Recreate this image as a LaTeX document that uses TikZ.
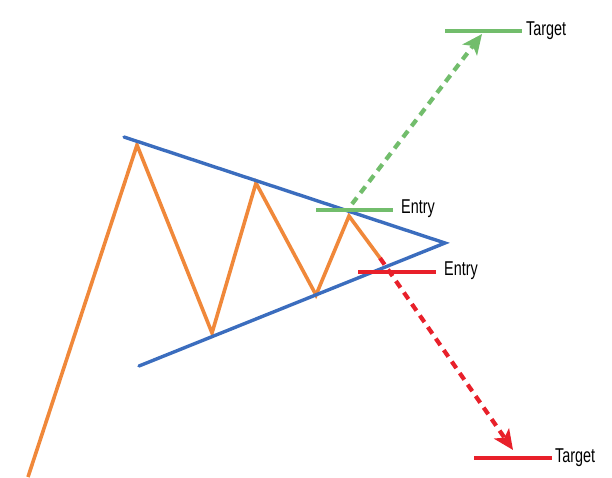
\documentclass[tikz,border=0pt]{standalone}
\usepackage{fontspec}
\setmainfont{Liberation Sans}
\usetikzlibrary{arrows.meta}
\definecolor{cOrange}{HTML}{F0883A}
\definecolor{cBlue}{HTML}{3B6DBE}
\definecolor{cGreen}{HTML}{72BD6C}
\definecolor{cRed}{HTML}{E8202A}
\tikzset{
  trend/.style={cBlue, line width=3.4pt, line cap=round},
  price/.style={cOrange, line width=3.6pt, line join=miter},
  level/.style={line width=3.8pt},
  proj/.style={line width=4.2pt, dash pattern=on 8pt off 6pt, -{Stealth[length=20pt,width=18pt,inset=5pt]}},
  lbl/.style={anchor=west, inner sep=0pt, font=\fontsize{20}{20}\selectfont}
}
\newcommand{\narrow}[1]{\scalebox{0.72}[1]{#1}}
\begin{document}
\begin{tikzpicture}[x=1pt,y=-1pt]
\useasboundingbox (0,0) rectangle (612,477);
% coordinates
\coordinate (p0) at (28,477);
\coordinate (p1) at (137,145);
\coordinate (p2) at (212,333);
\coordinate (p3) at (256,183);
\coordinate (p4) at (316,295);
\coordinate (p5) at (349,216);
\coordinate (p6) at (380,258);
\coordinate (u0) at (124,137);
\coordinate (apex) at (445,243);
\coordinate (l0) at (139,366);
\coordinate (ge0) at (316,210);
\coordinate (ge1) at (393,210);
\coordinate (gt0) at (445,31);
\coordinate (gt1) at (522,31);
\coordinate (re0) at (358,272);
\coordinate (re1) at (436,272);
\coordinate (rt0) at (474,458);
\coordinate (rt1) at (552,458);
\coordinate (gs) at (352,204);
\coordinate (ge) at (482,34);
\coordinate (rs) at (380,258);
\coordinate (re) at (513,450);
% price path
\draw[price] (p0) -- (p1) -- (p2) -- (p3) -- (p4) -- (p5) -- (p6);
% projections
\draw[proj, cGreen] (gs) -- (ge);
\draw[proj, cRed] (rs) -- (re);
% trend lines
\draw[trend] (u0) -- (apex) -- (l0);
% levels
\draw[level, cGreen] (ge0) -- (ge1);
\draw[level, cGreen] (gt0) -- (gt1);
\draw[level, cRed] (re0) -- (re1);
\draw[level, cRed] (rt0) -- (rt1);
% labels
\node[lbl] (tEntryG) at (401,209) {\narrow{Entry}};
\node[lbl] (tEntryR) at (444,271) {\narrow{Entry}};
\node[lbl] (tTargetG) at (526,31) {\narrow{Target}};
\node[lbl] (tTargetR) at (555,458) {\narrow{Target}};
\end{tikzpicture}
\end{document}
